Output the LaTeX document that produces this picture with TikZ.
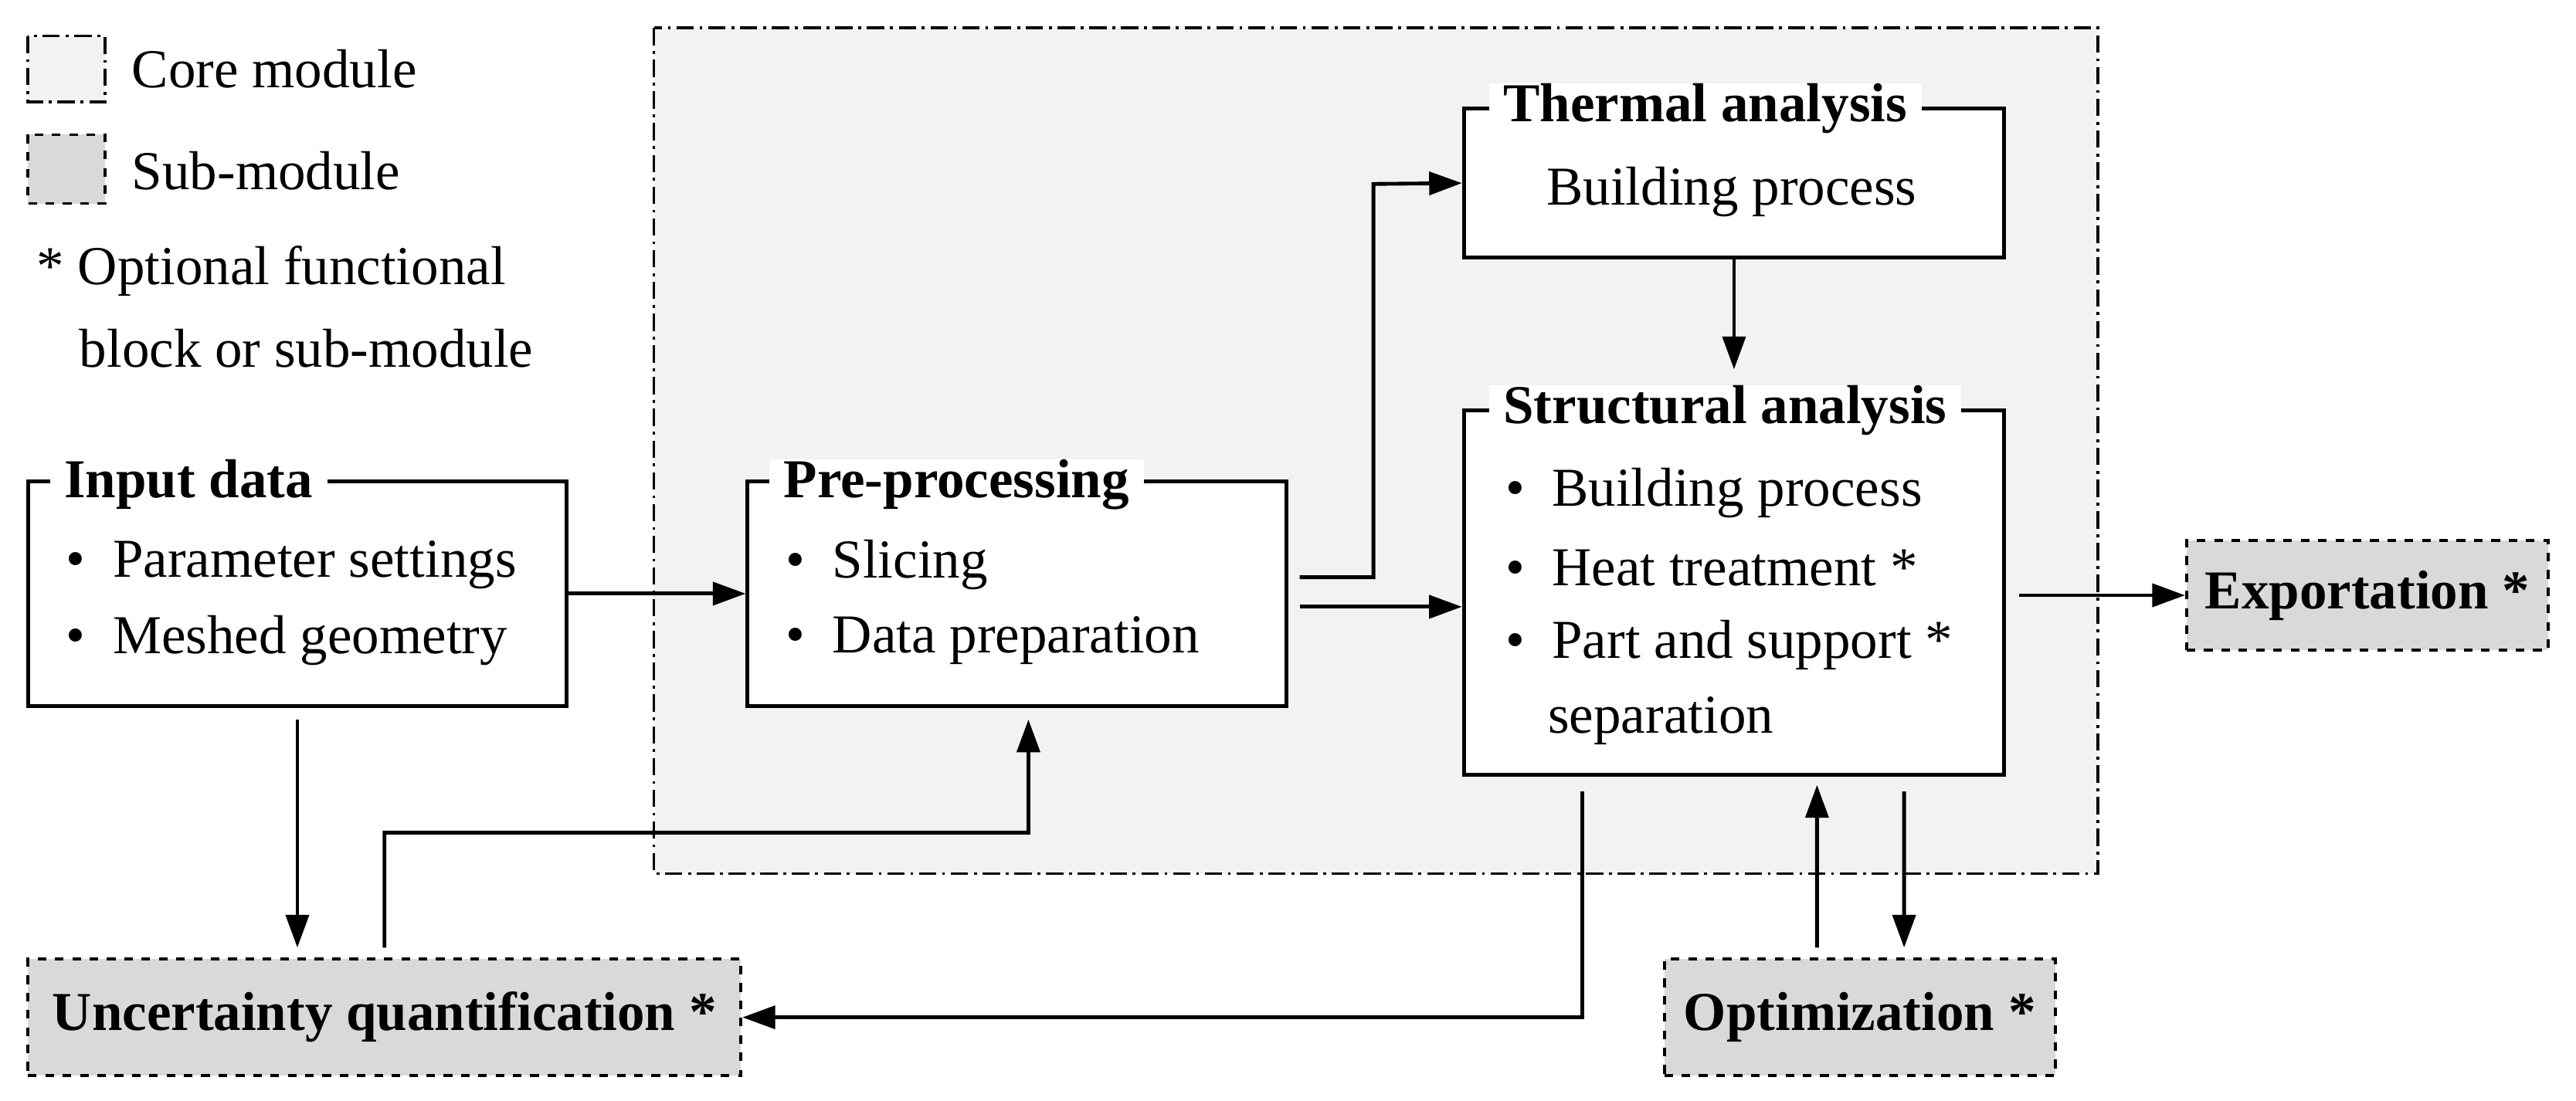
\documentclass[tikz,border=0pt]{standalone}
\usepackage{fontspec}
\setmainfont{Liberation Serif}
\usetikzlibrary{arrows.meta}
\definecolor{corefill}{HTML}{F2F2F2}
\definecolor{subfill}{HTML}{D9D9D9}
\newcommand{\fsz}{\fontsize{19}{23}\selectfont}
\tikzset{
  box/.style={draw, line width=1.3pt, fill=white, inner sep=0pt},
  coredash/.style={line width=0.9pt, dash pattern=on 6pt off 2pt on 1pt off 2pt},
  submod/.style={draw, line width=1.1pt, dashed, fill=subfill, inner sep=0pt, font=\fsz\bfseries},
  ttl/.style={anchor=west, fill=white, inner xsep=5pt, inner ysep=0pt, font=\fsz\bfseries},
  itm/.style={anchor=west, inner sep=0pt},
  arr/.style={line width=1.3pt, -{Triangle[length=0.4cm,width=0.28cm]}},
}
\begin{document}
\begin{tikzpicture}[x=0.02cm, y=-0.02cm, font=\fsz]
\useasboundingbox (0,0) rectangle (1568,670);
% core module
\draw[coredash, fill=corefill] (398,17) rectangle (1277,532);
% legend
\draw[coredash, fill=corefill] (17,22) rectangle (64,62);
\node[itm] at (80,42) {Core module};
\draw[line width=0.9pt, dashed, fill=subfill] (17,82) rectangle (64,124);
\node[itm] at (80,104) {Sub-module};
\node[itm] at (22,165) {* Optional functional};
\node[itm] at (48,212) {block or sub-module};
% blocks
\node[box, minimum width=6.56cm, minimum height=2.74cm] (inp) at (181,361.5) {};
\node[ttl] at (30,295) {Input data};
\node[itm] at (40,344) {\textbullet\ \ Parameter settings};
\node[itm] at (40,390) {\textbullet\ \ Meshed geometry};
\node[box, minimum width=6.56cm, minimum height=2.74cm] (pre) at (619,361.5) {};
\node[ttl] at (468,295) {Pre-processing};
\node[itm] at (478,344) {\textbullet\ \ Slicing};
\node[itm] at (478,390) {\textbullet\ \ Data preparation};
\node[box, minimum width=6.58cm, minimum height=1.82cm] (therm) at (1055.5,111.5) {};
\node[ttl] at (906,66) {Thermal analysis};
\node at (1054,117) {Building process};
\node[box, minimum width=6.58cm, minimum height=4.44cm] (struc) at (1055.5,361) {};
\node[ttl] at (906,250) {Structural analysis};
\node[itm] at (916,300) {\textbullet\ \ Building process};
\node[itm] at (916,346) {\textbullet\ \ Heat treatment *};
\node[itm] at (916,393) {\textbullet\ \ Part and support *};
\node[itm] at (942,439) {separation};
\node[submod, minimum width=4.4cm, minimum height=1.34cm] (exp) at (1441,362.5) {Exportation *};
\node[submod, minimum width=8.68cm, minimum height=1.42cm] (unc) at (234,619.5) {Uncertainty quantification *};
\node[submod, minimum width=4.76cm, minimum height=1.42cm] (opt) at (1132,619.5) {Optimization *};
% connectors
\draw[arr] (inp.east) -- (pre.west);
\draw[arr] ([xshift=0.14cm,yshift=0.2cm]pre.east) -| (836,112) -- (therm.west);
\draw[arr] ([xshift=0.14cm,yshift=-0.16cm]pre.east) -- ([yshift=-0.16cm]pre.east -| struc.west);
\draw[arr] (therm.south) -- ([yshift=0.48cm]struc.north);
\draw[arr] ([xshift=0.16cm]struc.east |- exp.west) -- (exp.west);
\draw[arr] ([yshift=-0.14cm]inp.south) -- ([yshift=0.12cm]inp.south |- unc.north);
\draw[arr] ([yshift=0.12cm]unc.north) |- (626,507) -- ([xshift=0.14cm,yshift=-0.14cm]pre.south);
\draw[arr] (963,482) |- (unc.east);
\draw[arr] ([xshift=-0.52cm,yshift=0.12cm]opt.north) -- (1106,478);
\draw[arr] (1159,482) -- ([xshift=0.54cm,yshift=0.12cm]opt.north);
\end{tikzpicture}
\end{document}
